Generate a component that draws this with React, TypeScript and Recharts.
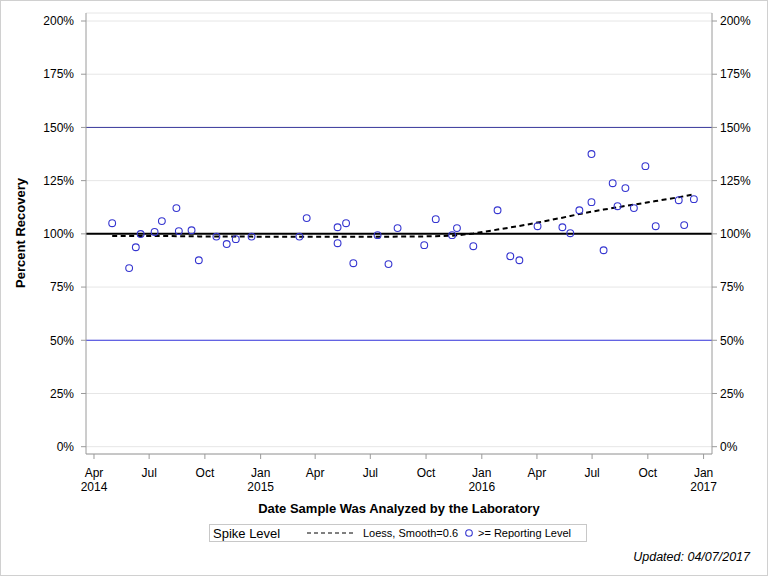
import React from 'react';
import { ComposedChart, XAxis, YAxis, CartesianGrid, ReferenceLine, Scatter, Line } from 'recharts';

const sampleDates = [
  '2014-05-01', '2014-05-29', '2014-06-09', '2014-06-17', '2014-07-10', '2014-07-22',
  '2014-08-15', '2014-08-19', '2014-09-09', '2014-09-21', '2014-10-20', '2014-11-06',
  '2014-11-21', '2014-12-17', '2015-03-06', '2015-03-18', '2015-05-08', '2015-05-08',
  '2015-05-22', '2015-06-03', '2015-07-13', '2015-07-31', '2015-08-15', '2015-09-28',
  '2015-10-17', '2015-11-13', '2015-11-21', '2015-12-18', '2016-01-27', '2016-02-17',
  '2016-03-03', '2016-04-02', '2016-05-13', '2016-05-26', '2016-06-10', '2016-06-30',
  '2016-06-30', '2016-07-20', '2016-08-04', '2016-08-12', '2016-08-25', '2016-09-08',
  '2016-09-27', '2016-10-14', '2016-11-21', '2016-11-30', '2016-12-16',
];
const recoveryPct = [
  105.0, 83.9, 93.7, 99.9, 100.9, 106.0,
  112.1, 101.3, 101.7, 87.6, 98.7, 95.2,
  97.5, 98.7, 98.7, 107.4, 103.1, 95.6,
  105.0, 86.2, 99.4, 85.8, 102.7, 94.7,
  106.9, 99.4, 102.7, 94.2, 111.1, 89.5,
  87.6, 103.6, 103.1, 100.3, 111.1, 114.9,
  137.5, 92.3, 123.8, 113.0, 121.5, 112.1,
  131.8, 103.6, 115.8, 104.1, 116.3,
];

const loessDates = [
  '2014-05-01', '2014-05-29', '2014-06-09', '2014-06-17', '2014-07-10', '2014-07-22',
  '2014-08-15', '2014-08-19', '2014-09-09', '2014-09-21', '2014-10-20', '2014-11-06',
  '2014-11-21', '2014-12-17', '2015-03-06', '2015-03-18', '2015-05-08', '2015-05-22',
  '2015-06-03', '2015-07-13', '2015-07-31', '2015-08-15', '2015-09-28', '2015-10-17',
  '2015-11-13', '2015-11-21', '2015-12-18', '2016-01-27', '2016-02-17', '2016-03-03',
  '2016-04-02', '2016-05-13', '2016-05-26', '2016-06-10', '2016-06-30', '2016-07-20',
  '2016-08-04', '2016-08-12', '2016-08-25', '2016-09-08', '2016-09-27', '2016-10-14',
  '2016-11-21', '2016-11-30', '2016-12-16',
];
const loessPct = [
  99.0, 99.0, 99.0, 99.0, 99.0, 99.0,
  98.9, 98.9, 98.9, 98.8, 98.8, 98.7,
  98.7, 98.7, 98.6, 98.6, 98.6, 98.6,
  98.6, 98.6, 98.6, 98.7, 98.8, 98.9,
  99.1, 99.3, 100.2, 102.0, 103.0, 103.7,
  105.3, 107.6, 108.4, 109.3, 110.4, 111.4,
  112.1, 112.5, 113.1, 113.7, 114.6, 115.4,
  117.2, 117.7, 118.6,
];

const yTicks = [0, 25, 50, 75, 100, 125, 150, 175, 200];
const xTickDates = [
  '2014-04-01', '2014-07-01', '2014-10-01', '2015-01-01', '2015-04-01', '2015-07-01',
  '2015-10-01', '2016-01-01', '2016-04-01', '2016-07-01', '2016-10-01', '2017-01-01',
];
const xTickMonths = ['Apr', 'Jul', 'Oct', 'Jan', 'Apr', 'Jul', 'Oct', 'Jan', 'Apr', 'Jul', 'Oct', 'Jan'];
const xTickYears = ['2014', '', '', '2015', '', '', '', '2016', '', '', '', '2017'];

const spikeLevel = 100;
const upperLimit = 150;
const lowerLimit = 50;

const DAY = 86400000;
const FONT = "Arial, 'Liberation Sans', sans-serif";
const xTicks = xTickDates.map((d) => Date.parse(d));
const xDomain = [xTicks[0] - 13.2 * DAY, xTicks[xTicks.length - 1] + 13.9 * DAY];
const yDomain = [-3.43, 203.76];

const scatterData = sampleDates.map((d, i) => ({ t: Date.parse(d), v: recoveryPct[i] }));
const loessData = loessDates.map((d, i) => ({ t: Date.parse(d), v: loessPct[i] }));

const AXIS = '#9a9a9a';
const DOT = '#3535d0';

const XTick = (props: any) => {
  const { x, y, payload } = props;
  const i = xTicks.indexOf(payload.value);
  return (
    <text x={x} y={y} textAnchor="middle" fontSize={12} fill="#000" fontFamily={FONT}>
      <tspan x={x} dy={15.5}>{xTickMonths[i]}</tspan>
      {xTickYears[i] ? <tspan x={x} dy={14.3}>{xTickYears[i]}</tspan> : null}
    </text>
  );
};

const OpenCircle = (props: any) => {
  const { cx, cy } = props;
  if (cx == null || cy == null) return <g />;
  return <circle cx={cx} cy={cy} r={3.4} fill="none" stroke={DOT} strokeWidth={1.1} />;
};

export default function App() {
  return (
    <div style={{ position: 'absolute', left: 0, top: 0, width: 768, height: 576, background: '#fff', fontFamily: FONT }}>
      <ComposedChart
        width={768}
        height={576}
        margin={{ top: 13, right: 0, bottom: 0, left: 0 }}
      >
        <CartesianGrid horizontal vertical={false} stroke="#e6e6e6" yAxisId="left" xAxisId="bottom" />
        <XAxis
          xAxisId="bottom"
          dataKey="t"
          type="number"
          scale="linear"
          domain={xDomain}
          allowDataOverflow
          ticks={xTicks}
          interval={0}
          height={122}
          tickSize={5}
          tickMargin={2}
          axisLine={{ stroke: AXIS }}
          tickLine={{ stroke: AXIS }}
          tick={<XTick />}
        />
        <XAxis
          xAxisId="top"
          orientation="top"
          dataKey="t"
          type="number"
          domain={xDomain}
          allowDataOverflow
          height={0}
          tick={false}
          tickLine={false}
          axisLine={{ stroke: AXIS }}
        />
        <YAxis
          yAxisId="left"
          type="number"
          domain={yDomain}
          allowDataOverflow
          ticks={yTicks}
          interval={0}
          width={86}
          tickSize={5}
          tickMargin={7}
          axisLine={{ stroke: AXIS }}
          tickLine={{ stroke: AXIS }}
          tickFormatter={(v: number) => `${v}%`}
          tick={{ fill: '#000', fontSize: 12, fontFamily: FONT }}
        />
        <YAxis
          yAxisId="right"
          orientation="right"
          type="number"
          domain={yDomain}
          allowDataOverflow
          ticks={yTicks}
          interval={0}
          width={56}
          tickSize={5}
          tickMargin={3}
          axisLine={{ stroke: AXIS }}
          tickLine={{ stroke: AXIS }}
          tickFormatter={(v: number) => `${v}%`}
          tick={{ fill: '#000', fontSize: 12, fontFamily: FONT }}
        />
        <ReferenceLine yAxisId="left" xAxisId="bottom" y={upperLimit} stroke="#3a3a9c" strokeWidth={1} />
        <ReferenceLine yAxisId="left" xAxisId="bottom" y={lowerLimit} stroke="#3a3ae0" strokeWidth={1} />
        <ReferenceLine yAxisId="left" xAxisId="bottom" y={spikeLevel} stroke="#000" strokeWidth={2} />
        <Line
          yAxisId="left"
          xAxisId="bottom"
          data={loessData}
          dataKey="v"
          type="linear"
          stroke="#000"
          strokeWidth={2}
          strokeDasharray="5 3.5"
          dot={false}
          activeDot={false}
          isAnimationActive={false}
        />
        <Scatter
          yAxisId="left"
          xAxisId="bottom"
          data={scatterData}
          dataKey="v"
          shape={<OpenCircle />}
          isAnimationActive={false}
        />
      </ComposedChart>
      <svg
        width={768}
        height={576}
        style={{ position: 'absolute', left: 0, top: 0, pointerEvents: 'none' }}
      >
        <text
          transform="translate(25,233) rotate(-90)"
          textAnchor="middle"
          fontSize={13}
          fontWeight="bold"
          fontFamily={FONT}
          fill="#000"
        >
          Percent Recovery
        </text>
        <text x={398.9} y={512.7} textAnchor="middle" fontSize={13} fontWeight="bold" fontFamily={FONT} fill="#000">
          Date Sample Was Analyzed by the Laboratory
        </text>
        <rect x={209.5} y={524.5} width={377} height={17} fill="#fff" stroke="#c8c8c8" strokeWidth={1} />
        <text x={213} y={537.5} fontSize={13} fontFamily={FONT} fill="#000">Spike Level</text>
        <line x1={307} y1={533} x2={355} y2={533} stroke="#000" strokeWidth={1} strokeDasharray="4 3" />
        <text x={363} y={537} fontSize={11} fontFamily={FONT} fill="#000">Loess, Smooth=0.6</text>
        <circle cx={469} cy={533} r={3.3} fill="none" stroke={DOT} strokeWidth={1.1} />
        <text x={478} y={537} fontSize={11} fontFamily={FONT} fill="#000">&gt;= Reporting Level</text>
        <text x={750} y={561} textAnchor="end" fontSize={12.5} fontStyle="italic" fontFamily={FONT} fill="#000">
          Updated: 04/07/2017
        </text>
        <rect x={0.5} y={0.5} width={767} height={575} fill="none" stroke="#d0d0d0" strokeWidth={1} />
      </svg>
    </div>
  );
}
